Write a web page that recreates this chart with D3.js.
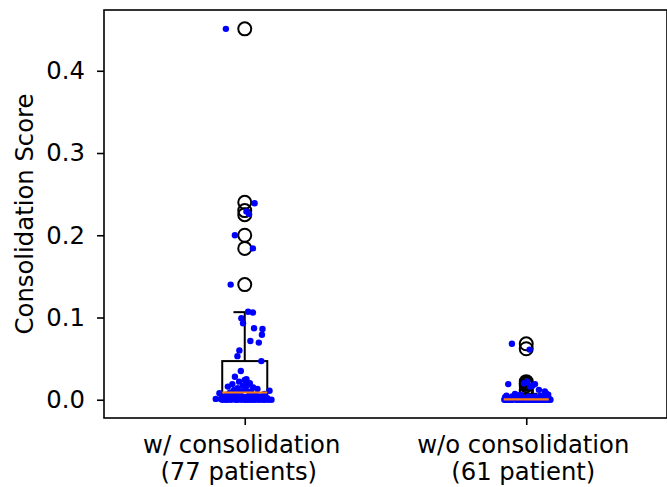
<!DOCTYPE html>
<html>
<head>
<meta charset="utf-8">
<script src="https://cdn.jsdelivr.net/npm/d3@7"></script>
<style>
  body { margin: 0; background: #fff; }
  text { font-family: "DejaVu Sans", sans-serif; fill: #000; }
</style>
</head>
<body>
<div id="chart"></div>
<script>
// categories and tick labels
const categories = ["w/ consolidation", "w/o consolidation"];
const countLabels = ["(77 patients)", "(61 patient)"];
const yTicks = [0.0, 0.1, 0.2, 0.3, 0.4];

// box statistics
const q1 = [0.0005, 0.0];
const medians = [0.0088, 0.0004];
const q3 = [0.047, 0.003];
const whiskLo = [0.0, 0.0];
const whiskHi = [0.1065, 0.0072];
const fliers1 = [0.451, 0.240, 0.230, 0.225, 0.200, 0.184, 0.140];
const fliers2 = [0.068, 0.062, 0.022, 0.020, 0.019, 0.017, 0.012, 0.010, 0.008];

// patient scores, with the horizontal jitter (in category units)
const values1 = [0.451, 0.239, 0.229, 0.226, 0.200, 0.184, 0.140,
  0.107, 0.106, 0.099, 0.093, 0.087, 0.086, 0.079, 0.0715, 0.0695, 0.060, 0.053, 0.047,
  0.035, 0.028, 0.025, 0.024, 0.022, 0.020, 0.019, 0.018, 0.017, 0.016, 0.015, 0.014, 0.013, 0.012, 0.012, 0.011, 0.010, 0.010, 0.009,
  0.008, 0.007, 0.007, 0.006, 0.006, 0.005, 0.005, 0.004, 0.004, 0.004, 0.003, 0.003, 0.003, 0.002, 0.002, 0.002, 0.002,
  0.001, 0.001, 0.001, 0.001, 0.001, 0, 0, 0, 0, 0, 0, 0, 0, 0, 0, 0, 0, 0, 0, 0, 0, 0];
const jitter1 = [-0.067, 0.035, 0.006, 0.015, -0.035, 0.029, -0.050,
  0.012, 0.029, -0.012, -0.006, 0.033, 0.063, 0.061, 0.020, 0.050, -0.019, -0.026, 0.059,
  -0.014, -0.035, 0.006, 0.000, -0.020, 0.018, -0.044, 0.010, -0.006, -0.060, 0.030, -0.025, 0.045, -0.038, 0.004, 0.088, -0.015, 0.022, -0.052,
  -0.090, 0.070, -0.030, 0.040, -0.065, 0.015, -0.045, 0.055, -0.010, 0.025, -0.075, 0.060, 0.002, -0.055, 0.035, -0.020, 0.080,
  -0.085, 0.047, -0.040, 0.010, -0.103, -0.080, -0.060, -0.048, -0.033, -0.025, -0.012, 0.000, 0.008, 0.018, 0.028, 0.038, 0.050, 0.062, 0.072, 0.084, 0.095, -0.070];

const values2 = [0.068, 0.061, 0.022, 0.020, 0.019, 0.019, 0.017, 0.016, 0.012, 0.010,
  0.008, 0.007, 0.006, 0.006, 0.005, 0.005, 0.004, 0.004, 0.004, 0.003, 0.003, 0.003, 0.003,
  0.002, 0.002, 0.002, 0.002, 0.002, 0.001, 0.001, 0.001, 0.001, 0.001, 0.001, 0.001,
  0, 0, 0, 0, 0, 0, 0, 0, 0, 0, 0, 0, 0, 0, 0, 0, 0, 0, 0, 0, 0, 0, 0, 0, 0, 0];
const jitter2 = [-0.051, 0.012, 0.004, -0.008, -0.064, 0.031, 0.022, 0.014, 0.045, 0.066,
  0.070, -0.040, 0.078, -0.020, 0.050, -0.070, 0.030, -0.050, 0.008, 0.060, -0.030, 0.020, -0.075,
  0.040, -0.010, 0.072, -0.060, 0.000, 0.055, -0.045, 0.015, -0.025, 0.035, -0.065, 0.082,
  -0.078, -0.066, -0.057, -0.049, -0.036, -0.027, -0.019, -0.007, 0.003, 0.013, 0.021, 0.034, 0.041, 0.053, 0.061, 0.073, 0.081,
  -0.071, -0.053, -0.031, -0.013, 0.009, 0.027, 0.049, 0.067, 0.086];

const width = 667, height = 487;
const margin = { top: 10, right: 0, bottom: 69, left: 104 };
const fontSize = "24.3px";
const svg = d3.select("#chart").append("svg")
  .attr("width", width)
  .attr("height", height);

const x = d3.scaleLinear().domain([0.5, 2.5]).range([margin.left, width - margin.right]);
const y = d3.scaleLinear().domain([-0.0222, 0.4739]).range([height - margin.bottom, margin.top]);

const boxW = 0.16, capW = 0.08;

// boxes and whiskers
const boxes = svg.append("g");
[0, 1].forEach(i => {
  const c = i + 1;
  boxes.append("rect")
    .attr("x", x(c - boxW / 2))
    .attr("y", y(q3[i]))
    .attr("width", x(c + boxW / 2) - x(c - boxW / 2))
    .attr("height", y(q1[i]) - y(q3[i]))
    .attr("fill", "none").attr("stroke", "#000").attr("stroke-width", 2);
  [[q3[i], whiskHi[i]], [q1[i], whiskLo[i]]].forEach(([a, b]) => {
    boxes.append("line")
      .attr("x1", x(c)).attr("x2", x(c))
      .attr("y1", y(a)).attr("y2", y(b))
      .attr("stroke", "#000").attr("stroke-width", 2);
    boxes.append("line")
      .attr("x1", x(c - capW / 2)).attr("x2", x(c + capW / 2))
      .attr("y1", y(b)).attr("y2", y(b))
      .attr("stroke", "#000").attr("stroke-width", 2);
  });
});

// outlier circles
[fliers1, fliers2].forEach((fl, i) => {
  svg.append("g").selectAll("circle")
    .data(fl)
    .enter().append("circle")
    .attr("cx", x(i + 1))
    .attr("cy", d => y(d))
    .attr("r", 6.5)
    .attr("fill", "none")
    .attr("stroke", "#000")
    .attr("stroke-width", 2);
});

// jittered points
[[values1, jitter1], [values2, jitter2]].forEach(([vals, jit], i) => {
  svg.append("g").selectAll("circle")
    .data(vals)
    .enter().append("circle")
    .attr("cx", (d, j) => x(i + 1 + jit[j]))
    .attr("cy", d => y(d))
    .attr("r", 3.2)
    .attr("fill", "blue");
});

// medians on top
svg.append("g").selectAll("line")
  .data(medians)
  .enter().append("line")
  .attr("x1", (d, i) => x(i + 1 - boxW / 2))
  .attr("x2", (d, i) => x(i + 1 + boxW / 2))
  .attr("y1", d => y(d))
  .attr("y2", d => y(d))
  .attr("stroke", "#ff7f0e")
  .attr("stroke-width", 2.2);

// frame
svg.append("rect")
  .attr("x", margin.left).attr("y", margin.top)
  .attr("width", width - margin.right - margin.left)
  .attr("height", height - margin.bottom - margin.top)
  .attr("fill", "none").attr("stroke", "#000").attr("stroke-width", 1.6);

// y axis
const yAxis = svg.append("g")
  .attr("transform", `translate(${margin.left},0)`)
  .call(d3.axisLeft(y).tickValues(yTicks).tickFormat(d3.format(".1f")).tickSize(7).tickPadding(12));
yAxis.select(".domain").remove();
yAxis.selectAll("line").attr("stroke-width", 1.6);
yAxis.selectAll("text").style("font-size", fontSize).attr("font-family", "DejaVu Sans");

// x axis
const xAxis = svg.append("g")
  .attr("transform", `translate(0,${height - margin.bottom})`)
  .call(d3.axisBottom(x).tickValues([1, 2]).tickFormat("").tickSize(7));
xAxis.select(".domain").remove();
xAxis.selectAll("line").attr("stroke-width", 1.6);

const xl = svg.append("g");
categories.forEach((c, i) => {
  const t = xl.append("text")
    .attr("text-anchor", "middle")
    .style("font-size", fontSize);
  t.append("tspan").attr("x", x(i + 1) - 3).attr("y", 453).text(c);
  t.append("tspan").attr("x", x(i + 1) - (i === 0 ? 6 : 3)).attr("y", 480).text(countLabels[i]);
});

// y label
svg.append("text")
  .attr("transform", `translate(33,${(margin.top + height - margin.bottom) / 2}) rotate(-90)`)
  .attr("text-anchor", "middle")
  .style("font-size", fontSize)
  .text("Consolidation Score");
</script>
</body>
</html>
